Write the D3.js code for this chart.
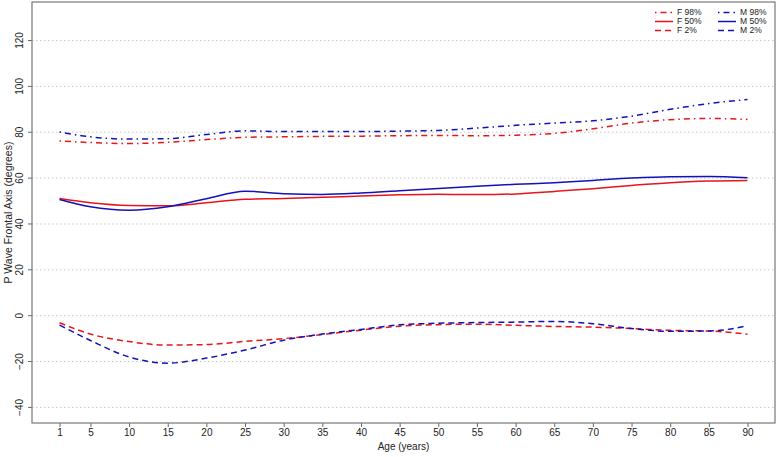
<!DOCTYPE html>
<html><head><meta charset="utf-8">
<script src="https://cdn.jsdelivr.net/npm/d3@7"></script>
<style>body{margin:0;background:#fff}svg{display:block;font-family:"Liberation Sans",Arial,sans-serif}</style>
</head><body><svg id="c" width="778" height="457"></svg>
<script>
const ages = [1,5,10,15,20,25,30,35,40,45,50,55,60,65,70,75,80,85,90];
const F98 = [76.2,75.5,75.1,75.6,76.8,77.8,78.0,78.2,78.3,78.5,78.6,78.5,78.7,79.5,81.5,84.0,85.5,86.0,85.6];
const M98 = [80.1,78.0,77.0,77.2,79.0,80.6,80.3,80.3,80.3,80.5,80.8,81.8,83.0,84.0,85.0,87.0,90.0,92.5,94.3];
const F50 = [51.1,49.3,48.1,47.9,49.2,50.8,51.1,51.6,52.2,52.7,53.0,52.8,53.1,54.2,55.4,56.8,58.0,58.7,59.0];
const M50 = [50.7,47.5,46.0,47.5,51.0,54.3,53.2,52.9,53.5,54.5,55.5,56.5,57.3,58.0,59.0,60.0,60.6,60.7,60.2];
const F2  = [-3.1,-8.0,-11.3,-12.8,-12.6,-11.2,-10.0,-8.2,-6.3,-4.6,-3.9,-3.7,-4.2,-4.7,-5.0,-5.6,-6.4,-6.7,-8.1];
const M2  = [-4.1,-10.8,-18.0,-20.7,-18.5,-15.0,-10.7,-8.0,-6.0,-4.0,-3.3,-3.0,-2.8,-2.5,-3.5,-5.6,-6.8,-6.7,-4.4];
const xTicks = [1,5,10,15,20,25,30,35,40,45,50,55,60,65,70,75,80,85,90];
const yTicks = [-40,-20,0,20,40,60,80,100,120];
const seriesNames = ["F 98%","F 50%","F 2%","M 98%","M 50%","M 2%"];

const RED = "#e8141c", BLUE = "#1212b8";
const DASH = "6,4", DOTDASH = "1.5,4,6,4";
const series = [
  {name:seriesNames[0], v:F98, c:RED, d:DOTDASH},
  {name:seriesNames[1], v:F50, c:RED, d:null},
  {name:seriesNames[2], v:F2,  c:RED, d:DASH},
  {name:seriesNames[3], v:M98, c:BLUE, d:DOTDASH},
  {name:seriesNames[4], v:M50, c:BLUE, d:null},
  {name:seriesNames[5], v:M2,  c:BLUE, d:DASH}
];

const L=32, R=775, T=2, B=423;
const svg = d3.select("#c");
const xr = [1 - 0.04*89, 90 + 0.04*89];
const yr = [-40 - 0.04*170, 130 + 0.04*170];
const x = d3.scaleLinear().domain(xr).range([L,R]);
const y = d3.scaleLinear().domain(yr).range([B,T]);

// grid
svg.append("g").selectAll("line").data(yTicks).join("line")
  .attr("x1",L).attr("x2",R).attr("y1",d=>y(d)).attr("y2",d=>y(d))
  .attr("stroke","#c8c8c8").attr("stroke-width",1).attr("stroke-dasharray","1.5,2.5");

// axes
const xa = svg.append("g").attr("transform",`translate(0,${B})`)
  .call(d3.axisBottom(x).tickValues(xTicks).tickSize(4).tickPadding(2).tickSizeOuter(0));
xa.select(".domain").remove();
xa.selectAll("line").attr("stroke","#666");
xa.selectAll("text").attr("font-size",10).attr("fill","#222");
const ya = svg.append("g").attr("transform",`translate(${L},0)`)
  .call(d3.axisLeft(y).tickValues(yTicks).tickSize(4).tickPadding(4).tickFormat(d=>d<0?"\u2212"+Math.abs(d):d));
ya.select(".domain").remove();
ya.selectAll("line").attr("stroke","#666");
ya.selectAll("text").attr("font-size",10).attr("fill","#222")
  .attr("text-anchor","middle").attr("dy",0)
  .attr("transform",d=>`translate(${-13},${y(d)}) rotate(-90) translate(0,${-y(d)})`)
  .attr("x",0).attr("y",d=>y(d)+4);
ya.selectAll(".tick").attr("transform",null);
ya.selectAll(".tick line").attr("y1",d=>y(d)).attr("y2",d=>y(d)).attr("x2",-4);

svg.append("rect").attr("x",L).attr("y",T).attr("width",R-L).attr("height",B-T)
  .attr("fill","none").attr("stroke","#777").attr("stroke-width",1.2);

// lines
const line = d3.line().x((d,i)=>x(ages[i])).y(d=>y(d)).curve(d3.curveMonotoneX);
svg.append("g").selectAll("path").data(series).join("path")
  .attr("d",s=>line(s.v)).attr("fill","none").attr("stroke",s=>s.c)
  .attr("stroke-width",1.5).attr("stroke-dasharray",s=>s.d);

// titles
svg.append("text").attr("x",(L+R)/2).attr("y",450).attr("text-anchor","middle")
  .attr("font-size",10).attr("fill","#222").text("Age (years)");
svg.append("text").attr("transform",`translate(8,${(T+B)/2}) rotate(-90)`).attr("text-anchor","middle")
  .attr("dy","0.35em").attr("font-size",10.5).attr("fill","#222").text("P Wave Frontal Axis (degrees)");

// legend
const lg = svg.append("g");
series.forEach((s,i)=>{
  const col = Math.floor(i/3), row = i%3;
  const x0 = col===0 ? 655 : 718, yy = 12.5 + row*9;
  lg.append("line").attr("x1",x0).attr("x2",x0+18).attr("y1",yy).attr("y2",yy)
    .attr("stroke",s.c).attr("stroke-width",1.5).attr("stroke-dasharray",s.d);
  lg.append("text").attr("x",x0+22).attr("y",yy).attr("dy","0.35em")
    .attr("font-size",8.5).attr("fill","#222").text(s.name);
});
</script></body></html>
